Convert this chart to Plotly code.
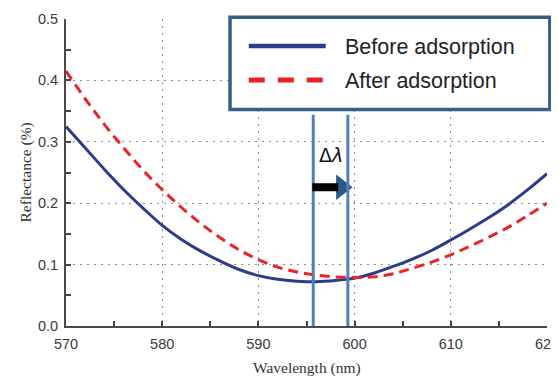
import plotly.graph_objects as go

wavelength = [570, 572, 574, 576, 578, 580, 582, 584, 586, 588, 590, 592, 594,
              596, 598, 600, 602, 604, 606, 608, 610, 612, 614, 616, 618, 620]
before = [0.325, 0.290, 0.255, 0.222, 0.192, 0.164, 0.141, 0.122, 0.106, 0.092,
          0.082, 0.076, 0.073, 0.072, 0.074, 0.078, 0.086, 0.097, 0.109, 0.123,
          0.140, 0.158, 0.177, 0.198, 0.222, 0.248]
after = [0.415, 0.370, 0.328, 0.290, 0.254, 0.222, 0.193, 0.167, 0.144, 0.124,
         0.108, 0.096, 0.088, 0.083, 0.080, 0.079, 0.080, 0.085, 0.094, 0.104,
         0.116, 0.130, 0.145, 0.161, 0.180, 0.200]
names = ["Before adsorption", "After adsorption"]
x_title = "Wavelength (nm)"
y_title = "Reflectance (%)"
x_ticks = [570, 580, 590, 600, 610, 620]
y_ticks = [0.0, 0.1, 0.2, 0.3, 0.4, 0.5]
y_tick_labels = ["0.0", "0.1", "0.2", "0.3", "0.4", "0.5"]
shift_start = 595.7
shift_end = 599.3
marker_top = 0.344
arrow_y = 0.226

blue = "#2e3a8c"
red = "#ec2227"
mark_blue = "#4f7fbd"
box_blue = "#3a5d88"
tick_font = dict(family="Liberation Sans, Arial, sans-serif", size=14.5, color="#3a3a3a")
title_font = dict(family="Liberation Serif, Times New Roman, serif", size=15.5, color="#333")

fig = go.Figure()
fig.add_trace(go.Scatter(x=wavelength, y=before, mode="lines", name=names[0],
                         line=dict(color=blue, width=3, shape="spline"), showlegend=False))
fig.add_trace(go.Scatter(x=wavelength, y=after, mode="lines", name=names[1],
                         line=dict(color=red, width=3, dash="10px,6px", shape="spline"),
                         showlegend=False))

# vertical markers
for xv in (shift_start, shift_end):
    fig.add_shape(type="line", xref="x", yref="y", x0=xv, x1=xv, y0=0, y1=marker_top,
                  line=dict(color=mark_blue, width=3))

# arrow: black shaft + blue head
fig.add_shape(type="line", xref="x", yref="y", x0=shift_start - 0.1, x1=shift_start + 2.6,
              y0=arrow_y, y1=arrow_y, line=dict(color="black", width=8), layer="above")
fig.add_trace(go.Scatter(x=[shift_start + 2.95], y=[arrow_y], mode="markers", showlegend=False,
                         hoverinfo="skip",
                         marker=dict(symbol="triangle-right", size=22, color="#2a5a8c",
                                     line=dict(width=0))))
fig.add_annotation(x=(shift_start + shift_end) / 2, y=0.279, xref="x", yref="y",
                   text="Δ<i>λ</i>", showarrow=False,
                   font=dict(family="DejaVu Sans", size=19, color="#111"))

# legend box (manual)
fig.add_shape(type="rect", xref="paper", yref="paper", x0=0.341, x1=1.006, y0=0.705, y1=1.006,
              line=dict(color=box_blue, width=3.5), fillcolor="white", layer="above")
leg_line_y = [0.912, 0.801]
leg_text_y = [0.909, 0.797]
styles = [dict(color=blue, width=4.5), dict(color=red, width=5, dash="16px,13px")]
for ly, ty, st, nm in zip(leg_line_y, leg_text_y, styles, names):
    fig.add_shape(type="line", xref="paper", yref="paper", x0=0.380, x1=0.540, y0=ly, y1=ly,
                  line=st, layer="above")
    fig.add_annotation(x=0.575, y=ty, xref="paper", yref="paper", text=nm, showarrow=False,
                       xanchor="left", yanchor="middle",
                       font=dict(family="Liberation Sans", size=21.5, color="#222"))

# axis titles as annotations (fixed positions)
fig.add_annotation(x=0.5, y=0, xref="paper", yref="paper", text=x_title, showarrow=False,
                   xanchor="center", yanchor="middle", yshift=-42, font=title_font)
fig.add_annotation(x=0, y=0.5, xref="paper", yref="paper", text=y_title, showarrow=False,
                   xanchor="center", yanchor="middle", xshift=-41, textangle=-90,
                   font=title_font)

axis_common = dict(showline=True, linecolor="#4a4a4a", linewidth=2, mirror=False,
                   showgrid=True, gridcolor="#8c8c8c", griddash="2px,5px", gridwidth=1.2,
                   ticks="inside", ticklen=5, tickwidth=1.5, tickcolor="#444",
                   tickfont=tick_font, zeroline=False, automargin=False,
                   ticklabeloverflow="allow")
fig.update_xaxes(range=[570, 620], tickvals=x_ticks, ticklabelstandoff=4,
                 minor=dict(dtick=5, ticks="inside", ticklen=5, tickcolor="#444", showgrid=False),
                 **axis_common)
fig.update_yaxes(range=[0, 0.5], tickvals=y_ticks, ticktext=y_tick_labels, ticklabelstandoff=3,
                 minor=dict(dtick=0.05, ticks="inside", ticklen=5, tickcolor="#444", showgrid=False),
                 **axis_common)
# page body adds an 8px offset; figure is sized so the plot area lands where the reference has it
fig.update_layout(width=559, height=371, margin=dict(l=58, r=20, t=11, b=53),
                  plot_bgcolor="white", paper_bgcolor="white")
fig.write_html("out.html")
